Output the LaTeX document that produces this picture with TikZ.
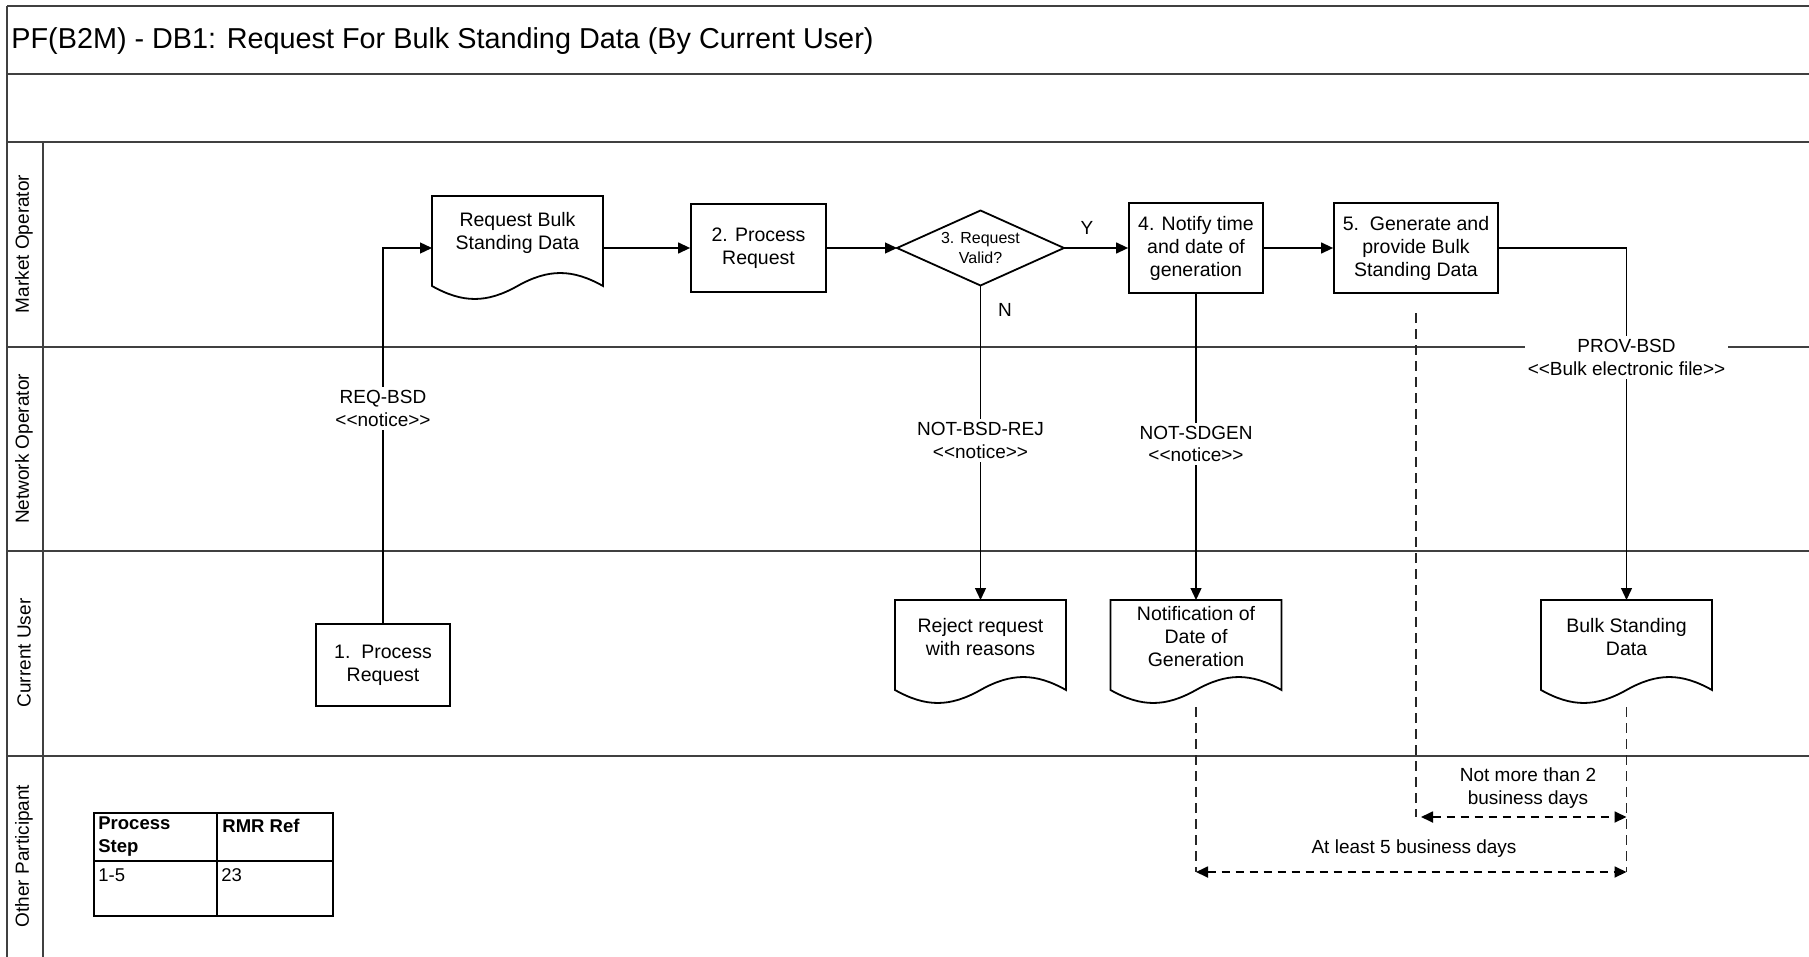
\documentclass[tikz,border=0pt]{standalone}
\usepackage{fontspec}
\setmainfont{Liberation Sans}
\usetikzlibrary{calc,arrows.meta}
\tikzset{
  lane/.style={draw=black!75, line width=1.2pt},
  shp/.style={draw=black, line width=0.9pt},
  txt/.style={font=\fontsize{9.75}{11.5}\selectfont, align=center, inner sep=0pt},
  procbox/.style={shp, txt},
  docnode/.style={txt, minimum width=85.5pt, minimum height=37pt, anchor=north, outer sep=0pt},
  decnode/.style={txt, font=\fontsize{8}{10}\selectfont, minimum width=83.5pt, minimum height=37.5pt, outer sep=0pt},
  conn/.style={draw=black, line width=0.65pt},
  arr/.style={conn, -{Triangle[length=6pt,width=5.5pt]}},
  msg/.style={fill=white, inner sep=1.5pt, align=center, font=\fontsize{9.5}{11.3}\selectfont},
  plain/.style={align=center, inner sep=0pt, font=\fontsize{9.5}{11.3}\selectfont},
  guide/.style={draw=black!85, line width=0.55pt, dash pattern=on 5pt off 3pt},
  span/.style={draw=black, line width=0.9pt, dash pattern=on 4pt off 3pt, {Triangle[length=6pt,width=5.5pt]}-{Triangle[length=6pt,width=5.5pt]}},
  lanelabel/.style={rotate=90, font=\fontsize{9.5}{11}\selectfont, inner sep=0pt},
  cell/.style={anchor=north west, align=left, inner sep=0pt, font=\fontsize{9.25}{11.5}\selectfont},
  boldcell/.style={cell, font=\bfseries\fontsize{9.25}{11.5}\selectfont},
}
\newcommand\docoutline[1]{%
  \draw[shp] (#1.north west) -- (#1.north east) -- ($(#1.north east)+(0,90)$)
   .. controls ($(#1.north west)+(140.2,72.7)$) and ($(#1.north west)+(116.3,72.7)$) .. ($(#1.north west)+(85.5,90)$)
   .. controls ($(#1.north west)+(54.7,107.3)$) and ($(#1.north west)+(30.8,107.3)$) .. ($(#1.north west)+(0,90)$) -- cycle;}
\begin{document}
\begin{tikzpicture}[x=0.5pt,y=-0.5pt]
\useasboundingbox (0,0) rectangle (1809,957);
% frame and lanes
\draw[lane] (7,6) -- (1809,6);
\draw[lane] (7,6) -- (7,957);
\foreach \yy in {74,142,347,551,756} \draw[lane] (7,\yy) -- (1809,\yy);
\draw[lane] (43,142) -- (43,957);
% title
\node[anchor=base west, inner sep=0pt, font=\fontsize{14.4}{17}\selectfont] (title) at (11,49) {PF(B2M) - DB1: Request For Bulk Standing Data (By Current User)};
% lane labels
\node[lanelabel] (lmo) at (24,244) {Market Operator};
\node[lanelabel] (lno) at (24,449) {Network Operator};
\node[lanelabel] (lcu) at (24,653) {Current User};
\node[lanelabel] (lop) at (24,856) {Other Participant};
% process boxes
\node[procbox, minimum width=67pt, minimum height=41pt] (p1) at (383,665) {1.\ \ Process\\Request};
\node[procbox, minimum width=67.5pt, minimum height=44pt] (p2) at (758.5,248) {2. Process\\Request};
\node[procbox, minimum width=67pt, minimum height=45pt] (p4) at (1196,248) {4. Notify time\\and date of\\generation};
\node[procbox, minimum width=82pt, minimum height=45pt] (p5) at (1416,248) {5.\ \ Generate and\\provide Bulk\\Standing Data};
% decision
\node[decnode] (q3) at (980.5,248) {3. Request\\Valid?};
\draw[shp] (q3.west) -- (q3.north) -- (q3.east) -- (q3.south) -- cycle;
% documents
\node[docnode] (d1) at (517.5,196) {Request Bulk\\Standing Data};
\docoutline{d1}
\node[docnode] (r1) at (980.5,600) {Reject request\\with reasons};
\docoutline{r1}
\node[docnode] (n1) at (1196,600) {Notification of\\Date of\\Generation};
\docoutline{n1}
\node[docnode] (b1) at (1626.5,600) {Bulk Standing\\Data};
\docoutline{b1}
% connectors
\draw[arr] (p1.north) |- (d1.west |- p2.west);
\draw[arr] (d1.east |- p2.west) -- (p2.west);
\draw[arr] (p2.east) -- (q3.west);
\draw[arr] (q3.east) -- (p4.west);
\draw[arr] (p4.east) -- (p5.west);
\draw[arr] (q3.south) -- (r1.north);
\draw[arr] (p4.south) -- (n1.north);
\draw[arr] (p5.east) -| (b1.north);
% message labels
\node[msg] (m1) at (383,408.5) {REQ-BSD\\<\kern0pt<notice>\kern0pt>};
\node[msg] (m2) at (980.5,440.5) {NOT-BSD-REJ\\<\kern0pt<notice>\kern0pt>};
\node[msg] (m3) at (1196,444) {NOT-SDGEN\\<\kern0pt<notice>\kern0pt>};
\node[msg] (m4) at (1626.5,357.5) {PROV-BSD\\<\kern0pt<Bulk electronic file>\kern0pt>};
\node[plain] (ly) at (1087,228) {Y};
\node[plain] (ln) at (1005,310) {N};
% timing guides
\coordinate (g1a) at (1416,313); \coordinate (g1b) at (1416,817);
\coordinate (g2a) at (1196,707); \coordinate (g2b) at (1196,872);
\coordinate (g3a) at (1626.5,707); \coordinate (g3b) at (1626.5,872);
\coordinate (s1a) at (1421,817); \coordinate (s1b) at (1626.5,817);
\draw[guide] (g1a) -- (g1b);
\draw[guide] (g2a) -- (g2b);
\draw[guide] (g3a) -- (g3b);
\draw[span] (s1a) -- (s1b);
\draw[span] (g2b) -- (g3b);
\node[plain] (t1) at (1528,788) {Not more than 2\\business days};
\node[plain] (t2) at (1414,849) {At least 5 business days};
% table
\node[draw=black, line width=0.9pt, minimum width=119.5pt, minimum height=51.5pt, anchor=north west, inner sep=0pt, outer sep=0pt] (tbl) at (94,813) {};
\draw[black, line width=0.9pt] ($(tbl.north west)+(123,0)$) -- ($(tbl.south west)+(123,0)$);
\draw[black, line width=0.9pt] ($(tbl.north west)+(0,48)$) -- ($(tbl.north east)+(0,48)$);
\node[boldcell] (c11) at (98,816) {Process\\Step};
\node[boldcell] (c12) at (222,819) {RMR Ref};
\node[cell] (c21) at (98,868) {1-5};
\node[cell] (c22) at (221,868) {23};
\end{tikzpicture}
\end{document}
